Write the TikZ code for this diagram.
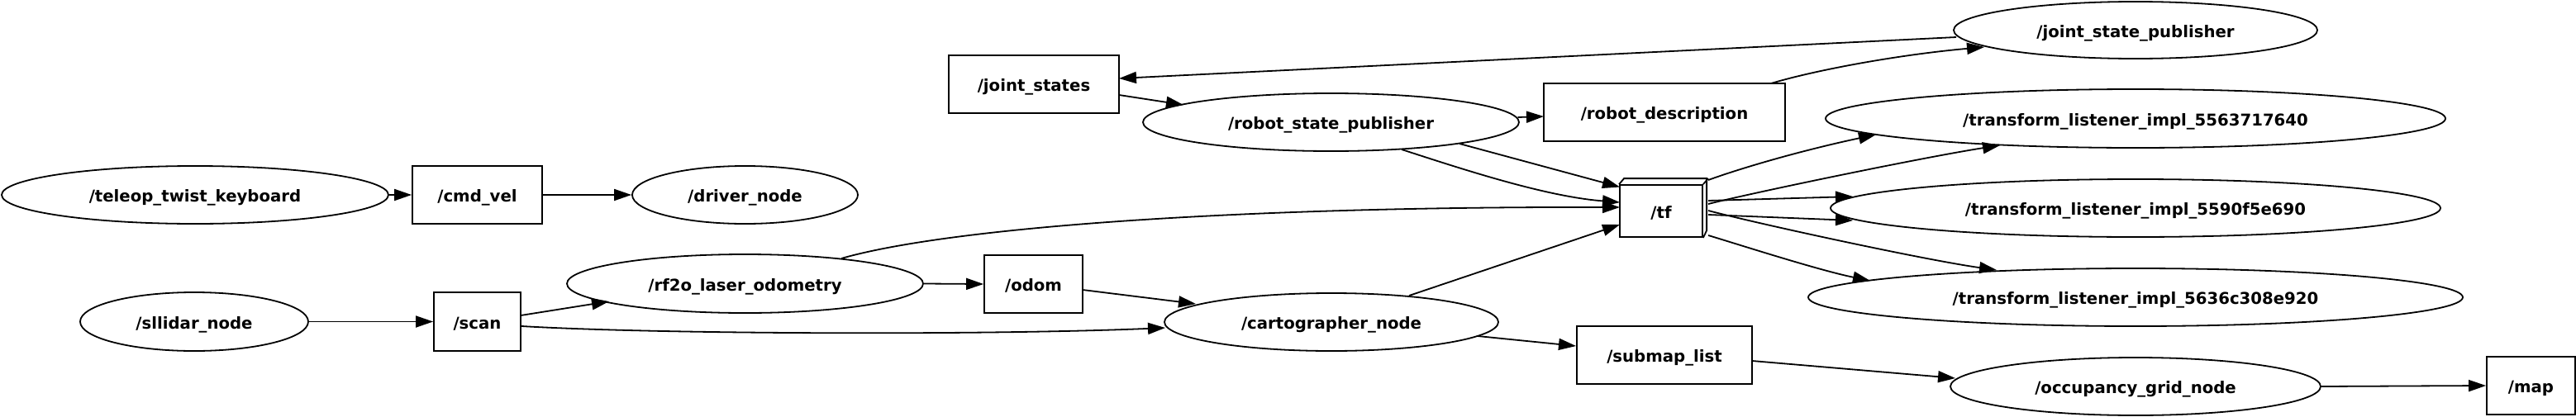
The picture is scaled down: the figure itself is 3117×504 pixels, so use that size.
\documentclass[tikz,border=0pt]{standalone}
\usepackage{fontspec}
\newfontfamily\gvfont{DejaVu Sans}
\usetikzlibrary{shapes.geometric,arrows.meta,calc}
\begin{document}
\begin{tikzpicture}[x=0.5pt,y=-0.5pt,
  gvbase/.style={draw=black, line width=0.9pt, inner sep=0pt,
    font=\gvfont\bfseries\fontsize{9.85}{11}\selectfont,
    text height=8.5pt, text depth=0pt},
  ell/.style={gvbase, ellipse},
  topic/.style={gvbase, rectangle},
  conn/.style={draw=black, line width=0.9pt, -{Triangle[length=10.5pt,width=7pt]}}
]
\useasboundingbox (0,0) rectangle (3117,504);

% nodes
\node[ell, minimum width=234pt, minimum height=35pt] (teleop) at (236,236) {/teleop\_twist\_keyboard};
\node[topic, minimum width=78.5pt, minimum height=35pt] (cmd) at (577.5,236) {/cmd\_vel};
\node[ell, minimum width=136.5pt, minimum height=35pt] (driver) at (901.5,236) {/driver\_node};
\node[ell, minimum width=138pt, minimum height=35.5pt] (slidar) at (235,389.5) {/sllidar\_node};
\node[topic, minimum width=52.5pt, minimum height=35.5pt] (scan) at (577.5,389.5) {/scan};
\node[ell, minimum width=215.5pt, minimum height=35.5pt] (rf2o) at (901.5,343.5) {/rf2o\_laser\_odometry};
\node[topic, minimum width=59.5pt, minimum height=35pt] (odom) at (1250.5,344) {/odom};
\node[topic, minimum width=103pt, minimum height=35pt] (js) at (1251,102) {/joint\_states};
\node[ell, minimum width=227.5pt, minimum height=35pt] (rsp) at (1610.5,148) {/robot\_state\_publisher};
\node[ell, minimum width=202pt, minimum height=35pt] (carto) at (1611,390) {/cartographer\_node};
\node[topic, minimum width=146pt, minimum height=35pt] (rd) at (2014,136) {/robot\_description};
\node[topic, minimum width=50pt, minimum height=31.5pt] (tf) at (2010,255.5) {/tf};
\node[topic, minimum width=106pt, minimum height=35pt] (submap) at (2014,430) {/submap\_list};
\node[ell, minimum width=220pt, minimum height=34.5pt] (jsp) at (2584,36.5) {/joint\_state\_publisher};
\node[ell, minimum width=375pt, minimum height=35.5pt] (L1) at (2584,143.5) {/transform\_listener\_impl\_5563717640};
\node[ell, minimum width=369pt, minimum height=35pt] (L2) at (2584,252) {/transform\_listener\_impl\_5590f5e690};
\node[ell, minimum width=396pt, minimum height=35pt] (L3) at (2584,360) {/transform\_listener\_impl\_5636c308e920};
\node[ell, minimum width=224pt, minimum height=35pt] (ogn) at (2584,468) {/occupancy\_grid\_node};
\node[topic, minimum width=53.5pt, minimum height=35pt] (map) at (3062.5,467) {/map};

% 3D look of /tf
\draw[line width=0.9pt, line join=miter] (tf.north west) -- ++(6,-7) -- ++(100,0) -- ++(0,63) -- (tf.south east);
\draw[line width=0.9pt] (tf.north east) -- ++(6,-7);

% connectors
\draw[conn] (teleop.east) -- (cmd.west);
\draw[conn] (cmd.east) -- (driver.west);
\draw[conn] (slidar.east) -- (scan.west);
\draw[conn] ($(scan)+(52.5,-7.5)$) -- ($(rf2o)+(-164.5,21.5)$);
\draw[conn] ($(scan)+(53.5,5.5)$) .. controls (800,405) and (1200,406) .. ($(carto)+(-201,7)$);
\draw[conn] (rf2o.east) -- (odom.west);
\draw[conn] ($(rf2o)+(116.5,-30.5)$) .. controls (1150,275) and (1500,250) .. ($(tf)+(-50,-4.5)$);
\draw[conn] ($(odom)+(59.5,7)$) -- ($(carto)+(-164,-22)$);
\draw[conn] ($(jsp)+(-217,8.5)$) -- ($(js)+(103,-7)$);
\draw[conn] ($(js)+(103,13)$) -- ($(rsp)+(-178.5,-21)$);
\draw[conn] ($(rsp)+(226,-6)$) -- ($(rd)+(-146,5)$);
\draw[conn] ($(rd)+(129,-35)$) .. controls (2200,84) and (2300,66) .. ($(jsp)+(-183,20.5)$);
\draw[conn] ($(rsp)+(155.5,26)$) -- ($(tf)+(-50,-29)$);
\draw[conn] ($(rsp)+(85.5,33)$) .. controls (1770,205) and (1870,238) .. ($(tf)+(-50,-10.5)$);
\draw[conn] ($(carto)+(94,-32)$) -- ($(tf)+(-50,16.5)$);
\draw[conn] ($(carto)+(177,17)$) -- ($(submap)+(-107,-11)$);
\draw[conn] ($(tf)+(57,-37.5)$) .. controls (2117,200) and (2190,180) .. ($(L1)+(-314,19.5)$);
\draw[conn] ($(tf)+(57,-8.5)$) .. controls (2127,232) and (2330,190) .. ($(L1)+(-164,32.5)$);
\draw[conn] ($(tf)+(57,-12.5)$) -- ($(L2)+(-342,-14)$);
\draw[conn] ($(tf)+(57,4.5)$) -- ($(L2)+(-342,15)$);
\draw[conn] ($(tf)+(57,-0.5)$) .. controls (2127,271) and (2330,315) .. ($(L3)+(-168,-33)$);
\draw[conn] ($(tf)+(57,29.5)$) .. controls (2110,298) and (2200,327) .. ($(L3)+(-321,-20)$);
\draw[conn] ($(submap)+(106,7)$) -- ($(ogn)+(-218,-10)$);
\draw[conn] (ogn.east) -- (map.west);
\end{tikzpicture}
\end{document}
